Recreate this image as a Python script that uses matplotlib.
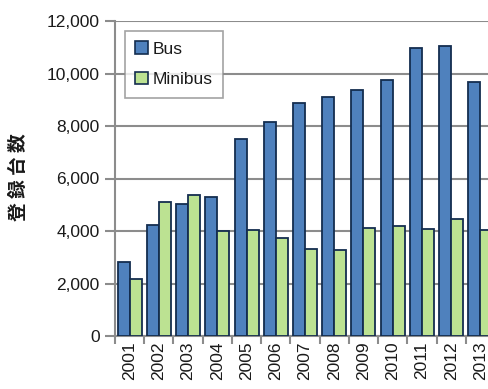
import numpy as np
import matplotlib.pyplot as plt
from matplotlib.patches import Patch

years = ["2001", "2002", "2003", "2004", "2005", "2006", "2007",
         "2008", "2009", "2010", "2011", "2012", "2013"]
bus = [2830, 4230, 5020, 5300, 7490, 8140, 8860, 9090, 9370, 9750, 10970, 11050, 9680]
minibus = [2170, 5090, 5380, 3990, 4030, 3750, 3310, 3290, 4110, 4200, 4090, 4440, 4040]

BUS_C = "#4F81BD"
MINI_C = "#BCE292"
EDGE = "#142D4F"
GRID = "#8C8C8C"
TXT = "#1a1a1a"

plt.rcParams["font.family"] = ["Liberation Sans", "DejaVu Sans"]

fig = plt.figure(figsize=(4.88, 3.89), dpi=100)
ax = fig.add_axes([115 / 488, 53 / 389, 380 / 488, 315 / 389])

x = np.arange(len(years))
w = 0.41
ax.bar(x - w / 2, bus, w, color=BUS_C, edgecolor=EDGE, linewidth=1.3, zorder=3)
ax.bar(x + w / 2, minibus, w, color=MINI_C, edgecolor=EDGE, linewidth=1.3, zorder=3)

ax.set_xlim(-0.5, len(years) - 0.5)
ax.set_ylim(0, 12000)
ax.set_yticks(np.arange(0, 12001, 2000))
ax.set_yticklabels([f"{v:,}" for v in range(0, 12001, 2000)], fontsize=12.5)
ax.yaxis.grid(True, color=GRID, linewidth=1.5, zorder=0)

# category boundaries carry the x tick marks, labels sit in the middle
ax.set_xticks(np.arange(-0.5, len(years), 1.0))
ax.set_xticklabels([])
ax.set_xticks(x, minor=True)
ax.set_xticklabels(years, minor=True, rotation=90, fontsize=12.5)
ax.tick_params(axis="x", which="minor", length=0, pad=4, labelcolor=TXT)
ax.tick_params(axis="x", which="major", length=6, width=1.5, color=GRID)
ax.tick_params(axis="y", length=7, width=1.5, color=GRID, pad=4, labelcolor=TXT)

for s in ["top", "right"]:
    ax.spines[s].set_visible(False)
for s in ["left", "bottom"]:
    ax.spines[s].set_color(GRID)
    ax.spines[s].set_linewidth(1.5)

fig.text(18 / 488, 1 - 177 / 389, "登 録 台 数", rotation=90, ha="center", va="center",
         fontsize=13.5, fontweight="bold", color=TXT,
         family=["Noto Sans CJK JP", "DejaVu Sans"])

handles = [Patch(facecolor=BUS_C, edgecolor=EDGE, linewidth=1.2, label="Bus"),
           Patch(facecolor=MINI_C, edgecolor=EDGE, linewidth=1.2, label="Minibus")]
leg = ax.legend(handles=handles, loc="upper left", bbox_to_anchor=(10 / 380, 1 - 10 / 315),
                fontsize=12.5, frameon=True, fancybox=False, handlelength=0.7,
                handleheight=0.7, handletextpad=0.3, labelspacing=0.9, borderpad=0.6,
                borderaxespad=0, labelcolor=TXT)
leg.get_frame().set_edgecolor(GRID)
leg.get_frame().set_linewidth(1.2)

fig.savefig("out.png", dpi=100)
